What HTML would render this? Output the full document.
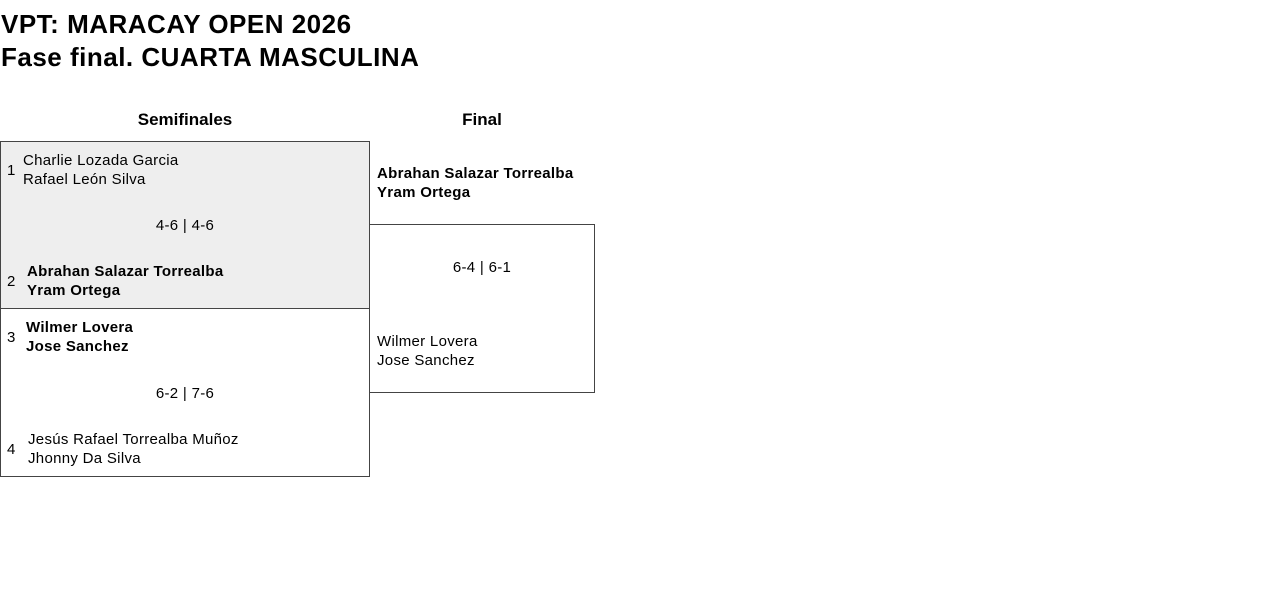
<!DOCTYPE html>
<html><head><meta charset="utf-8"><style>
body{margin:0;width:1280px;height:595px;background:#fff;font-family:"Liberation Sans",sans-serif;color:#000;position:relative;overflow:hidden}
.a{position:absolute;white-space:nowrap}
.t{font-size:26px;font-weight:bold;left:1px;letter-spacing:0.5px}
.h{font-size:17px;font-weight:bold;transform:translateX(-50%)}
.n{font-size:15px;line-height:19px;letter-spacing:0.3px}
.b{font-weight:bold}
.box{position:absolute;border:1px solid #444;box-sizing:border-box}
.c{transform:translateX(-50%)}
</style></head><body>
<div class="a t" style="top:9px">VPT: MARACAY OPEN 2026</div>
<div class="a t" style="top:42px">Fase final. CUARTA MASCULINA</div>
<div class="a h" style="left:185px;top:110px">Semifinales</div>
<div class="a h" style="left:482px;top:110px">Final</div>
<div class="box" style="left:0;top:141px;width:370px;height:168px;background:#eee"></div>
<div class="box" style="left:0;top:308px;width:370px;height:169px"></div>
<div class="box" style="left:369px;top:224px;width:226px;height:169px"></div>
<div class="a n" style="left:7px;top:161px">1</div>
<div class="a n" style="left:23px;top:151px">Charlie Lozada Garcia<br>Rafael León Silva</div>
<div class="a n c" style="left:185px;top:216px">4-6 | 4-6</div>
<div class="a n" style="left:7px;top:272px">2</div>
<div class="a n b" style="left:27px;top:262px">Abrahan Salazar Torrealba<br>Yram Ortega</div>
<div class="a n" style="left:7px;top:328px">3</div>
<div class="a n b" style="left:26px;top:318px">Wilmer Lovera<br>Jose Sanchez</div>
<div class="a n c" style="left:185px;top:384px">6-2 | 7-6</div>
<div class="a n" style="left:7px;top:440px">4</div>
<div class="a n" style="left:28px;top:430px">Jesús Rafael Torrealba Muñoz<br>Jhonny Da Silva</div>
<div class="a n b" style="left:377px;top:164px">Abrahan Salazar Torrealba<br>Yram Ortega</div>
<div class="a n c" style="left:482px;top:258px">6-4 | 6-1</div>
<div class="a n" style="left:377px;top:332px">Wilmer Lovera<br>Jose Sanchez</div>
</body></html>
